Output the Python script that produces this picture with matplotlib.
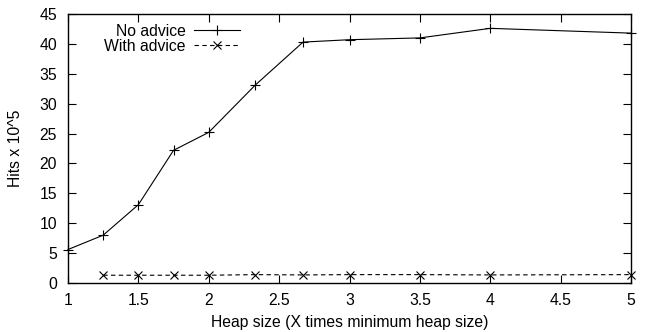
import matplotlib
matplotlib.use("Agg")
import matplotlib.pyplot as plt

# heap size multiples
heap_no = [1, 1.25, 1.5, 1.75, 2, 2.33, 2.67, 3, 3.5, 4, 5]
hits_no = [5.6, 8.0, 13.1, 22.2, 25.2, 33.1, 40.3, 40.7, 41.0, 42.6, 41.8]

heap_with = [1.25, 1.5, 1.75, 2, 2.33, 2.67, 3, 3.5, 4, 5]
hits_with = [1.3, 1.3, 1.3, 1.3, 1.4, 1.35, 1.4, 1.4, 1.35, 1.4]

plt.rcParams["font.family"] = ["Liberation Sans", "DejaVu Sans"]
plt.rcParams["font.size"] = 11.3

fig = plt.figure(figsize=(6.49, 3.32), dpi=100)
ax = fig.add_axes([68 / 649, 1 - 283 / 332, (631 - 68) / 649, (283 - 14) / 332])

ax.plot(heap_no, hits_no, color="black", lw=0.8, marker="+", ms=6.5, mew=0.8,
        label="No advice", clip_on=False)
ax.plot(heap_with, hits_with, color="black", lw=0.8, ls=(0, (4, 3)), marker="x",
        ms=6, mew=0.8, label="With advice", clip_on=False)

ax.set_xlim(1, 5)
ax.set_ylim(0, 45)
ax.set_xticks([1, 1.5, 2, 2.5, 3, 3.5, 4, 4.5, 5])
ax.set_xticklabels(["1", "1.5", "2", "2.5", "3", "3.5", "4", "4.5", "5"])
ax.set_yticks(range(0, 46, 5))
ax.tick_params(direction="in", top=True, right=True, length=6, width=0.8)
ax.tick_params(axis="x", pad=7)
ax.tick_params(axis="y", pad=8)
for s in ax.spines.values():
    s.set_linewidth(1.0)

ax.set_xlabel("Heap size (X times minimum heap size)")
ax.xaxis.set_label_coords(0.5, -0.12)
ax.set_ylabel("Hits x 10^5")
ax.yaxis.set_label_coords(-0.08, 0.5)

ax.legend(loc="upper right", bbox_to_anchor=(0.3055, 0.963), frameon=False,
          markerfirst=False, handlelength=2.9, handletextpad=0.55,
          labelspacing=0.0, borderaxespad=0, borderpad=0)

fig.savefig("out.png", dpi=100)
